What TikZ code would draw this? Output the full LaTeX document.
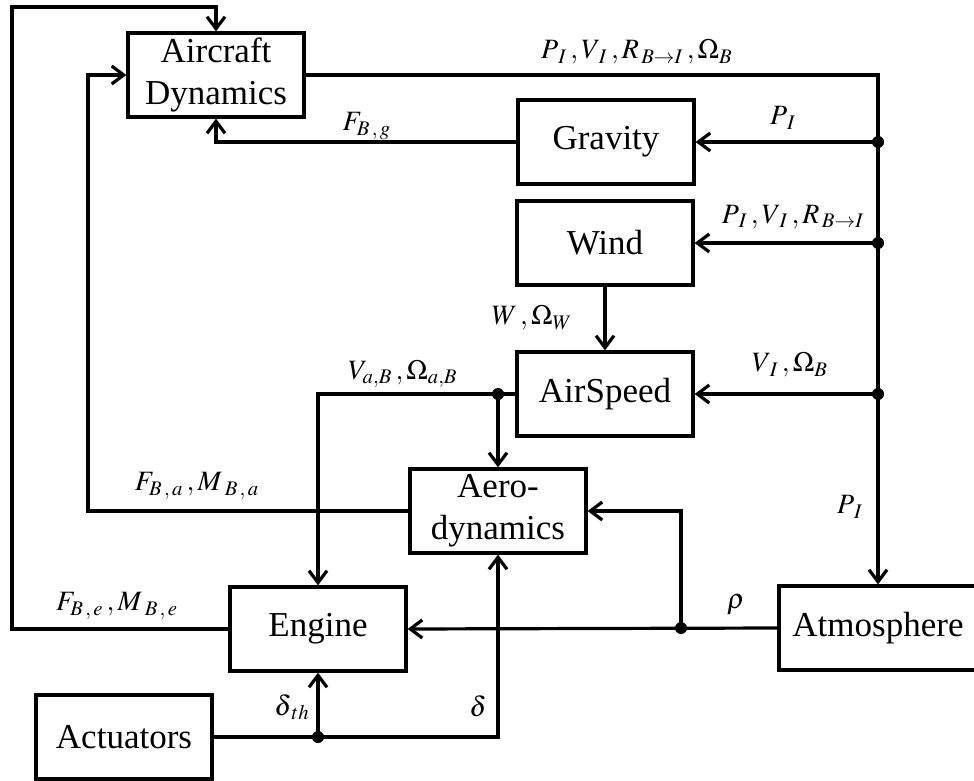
\documentclass[tikz,border=0pt]{standalone}
\usepackage{mathptmx}
\usepackage{fontspec}
\usepackage{tikz}
\usetikzlibrary{arrows.meta, calc}
\setmainfont{Liberation Serif}

\begin{document}
\begin{tikzpicture}[
  x=0.5pt, y=-0.5pt,
  block/.style={draw, line width=1.6pt, minimum width=88pt, minimum height=42pt,
    inner sep=1pt, align=center, font=\fontsize{17.5}{21}\selectfont},
  line/.style={line width=1.6pt},
  arr/.style={line, -{Straight Barb[length=6pt, width=9pt, line width=1.6pt]}},
  dot/.style={fill=black},
  lbl/.style={inner sep=0pt, font=\fontsize{14}{16}\selectfont}
]
\useasboundingbox (0,0) rectangle (974,781);

\node[block] (aircraft) at (216,75) {Aircraft\\Dynamics};
\node[block] (gravity) at (606,142) {Gravity};
\node[block] (wind) at (605,243) {Wind};
\node[block] (airspeed) at (605,394) {AirSpeed};
\node[block] (aero) at (498,511) {Aero-\\dynamics};
\node[block] (engine) at (318,629) {Engine};
\node[block] (actuators) at (124,737) {Actuators};
\node[block, minimum width=99pt] (atmo) at (878,628) {Atmosphere};

\coordinate (outer) at (12,7);
\coordinate (inner) at (88,75);
\coordinate (jg) at (atmo.north |- gravity.east);
\coordinate (jw) at (atmo.north |- wind.east);
\coordinate (ja) at (atmo.north |- airspeed.east);
\coordinate (jv) at (aero.north |- airspeed.west);
\coordinate (jr) at (681,628);
\coordinate (jd) at (engine.south |- actuators.east);

\draw[arr] (engine.west) -| (outer) -| (aircraft.north);
\draw[arr] (aero.west) -| (inner) -- (aircraft.west);
\draw[arr] (aircraft.east) -| (atmo.north);
\draw[arr] (jg) -- (gravity.east);
\draw[arr] (jw) -- (wind.east);
\draw[arr] (ja) -- (airspeed.east);
\draw[arr] (gravity.west) -| (aircraft.south);
\draw[arr] (wind.south) -- (airspeed.north);
\draw[line] (airspeed.west) -- (jv);
\draw[arr] (jv) -- (aero.north);
\draw[arr] (jv) -| (engine.north);
\draw[arr] (atmo.west) -- (engine.east);
\draw[arr] (jr) |- (aero.east);
\draw[arr] (actuators.east) -| (aero.south);
\draw[arr] (jd) -- (engine.south);

\foreach \j in {jg, jw, ja, jv, jr, jd}
  \fill[dot] (\j) circle[radius=3pt];

\node[lbl] (lbus) at (637,52) {$P_{\mkern3mu I}\,,V_{\mkern3mu I}\,,R_{\mkern2mu B\rightarrow I}\,,\Omega_{B}$};
\node[lbl] (lfg) at (367,126) {$F_{B\,,\,g}$};
\node[lbl] (lpg) at (783,118) {$P_{\mkern3mu I}$};
\node[lbl] (lpw) at (793,217) {$P_{\mkern3mu I}\,,V_{\mkern3mu I}\,,R_{\mkern2mu B\rightarrow I}$};
\node[lbl] (lww) at (532,318) {$W\,,\Omega_{W}$};
\node[lbl] (lvo) at (790,365) {$V_{\mkern3mu I}\,,\Omega_{B}$};
\node[lbl] (lva) at (403,374) {$V_{a,B}\,,\Omega_{a,B}$};
\node[lbl] (lfa) at (197,486) {$F_{B\,,\,a}\,,M_{\;B\,,\,a}$};
\node[lbl] (lfe) at (117,606) {$F_{B\,,\,e}\,,M_{\;B\,,\,e}$};
\node[lbl] (lpa) at (850,507) {$P_{\mkern3mu I}$};
\node[lbl] (lrho) at (736,605) {$\rho$};
\node[lbl] (lth) at (292,707) {$\delta_{\mkern3mu th}$};
\node[lbl] (ld) at (478,706) {$\delta$};
\end{tikzpicture}
\end{document}
